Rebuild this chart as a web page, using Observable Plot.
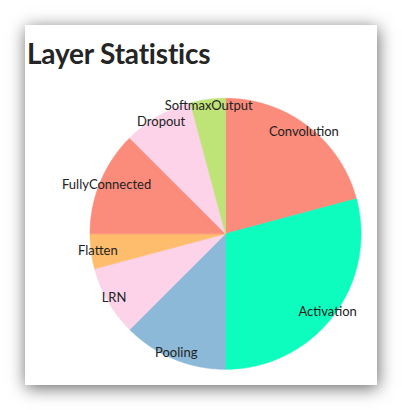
<!DOCTYPE html>
<html>
<head>
<meta charset="utf-8">
<script src="https://cdn.jsdelivr.net/npm/d3@7"></script>
<script src="https://cdn.jsdelivr.net/npm/@observablehq/plot@0.6"></script>
<style>
  html, body { margin: 0; padding: 0; background: #fff; width: 402px; height: 410px; overflow: hidden; }
  #card { position: absolute; left: 25px; top: 25px; width: 352px; height: 360px; background: #fff;
          box-shadow: 1px 3px 16px rgba(0,0,0,0.6); }
  #title { position: absolute; left: 2px; top: 11px; margin: 0; font-family: Lato, sans-serif; font-weight: 700;
           font-size: 28px; color: #252525; letter-spacing: -0.2px; }
  #chart { position: absolute; left: 0; top: 60px; }
</style>
</head>
<body>
<div id="card">
  <h1 id="title">Layer Statistics</h1>
  <div id="chart"></div>
</div>
<script>
const labels = ["Convolution", "Activation", "Pooling", "LRN", "Flatten", "FullyConnected", "Dropout", "SoftmaxOutput"];
const counts = [5, 7, 3, 2, 1, 3, 2, 1];
const colors = ["#fb8b7b", "#0cfdbe", "#8cb9d7", "#fcd3e8", "#fdbd6d", "#fb8b7b", "#fcd3e8", "#bee377"];

const total = d3.sum(counts);
let acc = 0;
const slices = labels.map((label, i) => {
  const a0 = acc / total * 2 * Math.PI;
  acc += counts[i];
  const a1 = acc / total * 2 * Math.PI;
  return {label, value: counts[i], a0, a1, mid: (a0 + a1) / 2};
});

// wedge outlines in unit coordinates (clockwise from top)
const pts = [];
for (const s of slices) {
  pts.push({label: s.label, x: 0, y: 0});
  const n = Math.max(8, Math.ceil((s.a1 - s.a0) / 0.01));
  for (let k = 0; k <= n; k++) {
    const a = s.a0 + (s.a1 - s.a0) * k / n;
    pts.push({label: s.label, x: Math.sin(a), y: Math.cos(a)});
  }
  pts.push({label: s.label, x: 0, y: 0});
}

const labelR = 0.95;
const cx = 200, cy = 148.3, r = 135.5;

const chart = Plot.plot({
  width: 352,
  height: 300,
  margin: 0,
  x: {domain: [-1, 1], range: [cx - r, cx + r], axis: null},
  y: {domain: [-1, 1], range: [cy + r, cy - r], axis: null},
  color: {domain: labels, range: colors},
  marks: [
    Plot.line(pts, {x: "x", y: "y", z: "label", fill: "label", stroke: "label", strokeWidth: 0.6}),
    Plot.text(slices, {
      x: d => Math.sin(d.mid) * labelR,
      y: d => Math.cos(d.mid) * labelR,
      text: "label",
      fill: "#222",
      fontSize: 13,
      fontFamily: "Lato, sans-serif"
    })
  ],
  style: {background: "transparent", overflow: "visible"}
});
document.getElementById("chart").appendChild(chart);
</script>
</body>
</html>
